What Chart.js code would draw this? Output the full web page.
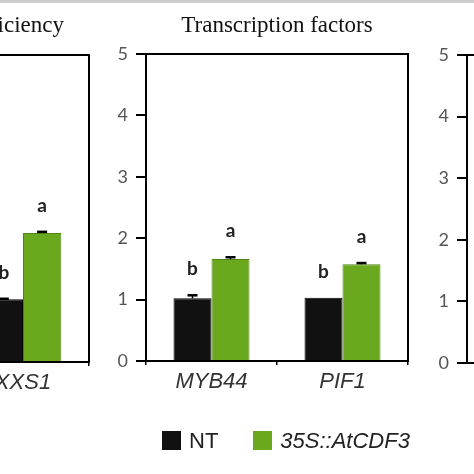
<!DOCTYPE html>
<html><head><meta charset="utf-8">
<script src="https://cdn.jsdelivr.net/npm/chart.js@4.4.1/dist/chart.umd.min.js"></script>
<style>
html,body{margin:0;padding:0;background:#fff;width:474px;height:474px;overflow:hidden;position:relative}
canvas{position:absolute;top:0}
#topbar{position:absolute;left:0;top:0;width:474px;height:3px;background:#cdcdcd}
#legend{position:absolute;left:162px;top:431px;display:flex;align-items:center;font-family:"Liberation Sans",Arial,sans-serif;font-size:22px;color:#222;line-height:19px}
.item{display:flex;align-items:center;margin-right:35px}
.sw{width:19px;height:19px;display:inline-block}
.lt{margin-left:8px}
</style>
</head><body>
<canvas id="cL" width="260" height="474" style="left:-160px"></canvas>
<canvas id="cM" width="474" height="474" style="left:0px"></canvas>
<canvas id="cR" width="200" height="474" style="left:380px"></canvas>
<div id="legend"></div>
<div id="topbar"></div>
<script>
// ---- data ----
const yTicks = [0, 1, 2, 3, 4, 5];
const seriesNames = ['NT', '35S::AtCDF3'];
const seriesColors = ['#111111', '#6aa81e'];
const seriesBorders = ['#000000', '#4e8514'];
const seriesItalic = [false, true];

const leftTitle = 'Nitrogen use efficiency';
const leftCategories = ['XXS1'];
const leftNT = [1.02];
const leftNTErr = [0.01];
const leftCDF3 = [2.10];
const leftCDF3Err = [0.02];
const leftNTLetters = ['b'];
const leftCDF3Letters = ['a'];

const midTitle = 'Transcription factors';
const midCategories = ['MYB44', 'PIF1'];
const midNT = [1.02, 1.03];
const midNTErr = [0.05, 0.0];
const midCDF3 = [1.66, 1.575];
const midCDF3Err = [0.03, 0.02];
const midNTLetters = ['b', 'b'];
const midCDF3Letters = ['a', 'a'];

// ---- plugins ----
const errLetters = {
  id: 'errLetters',
  afterDatasetsDraw(chart) {
    const ctx = chart.ctx, y = chart.scales.y;
    chart.data.datasets.forEach((ds, di) => {
      const meta = chart.getDatasetMeta(di);
      meta.data.forEach((bar, i) => {
        const v = ds.data[i], e = (ds.errors || [])[i] || 0;
        const yTop = y.getPixelForValue(v + e);
        if (e > 0) {
          ctx.save();
          ctx.strokeStyle = '#000'; ctx.lineWidth = 1.5;
          ctx.beginPath(); ctx.moveTo(bar.x, bar.y); ctx.lineTo(bar.x, yTop); ctx.stroke();
          ctx.lineWidth = 2.5;
          ctx.beginPath(); ctx.moveTo(bar.x - 5, yTop); ctx.lineTo(bar.x + 5, yTop); ctx.stroke();
          ctx.restore();
        }
        const L = (ds.letters || [])[i];
        if (L) {
          ctx.save();
          ctx.font = 'bold 19px Lato'; ctx.fillStyle = '#222';
          ctx.textAlign = 'center'; ctx.textBaseline = 'middle';
          ctx.fillText(L, bar.x, yTop - 26);
          ctx.restore();
        }
      });
    });
  }
};
const panelTitle = {
  id: 'panelTitle',
  afterDraw(chart, args, opts) {
    if (!opts || !opts.text) return;
    const ctx = chart.ctx, a = chart.chartArea;
    ctx.save();
    ctx.font = '23px "Liberation Serif"'; ctx.fillStyle = '#111'; ctx.textBaseline = 'alphabetic';
    let x;
    if (opts.align === 'right') { ctx.textAlign = 'right'; x = a.right + (opts.dx || 0); }
    else { ctx.textAlign = 'center'; x = (a.left + a.right) / 2; }
    ctx.fillText(opts.text, x, opts.baseline);
    ctx.restore();
  }
};
Chart.register(errLetters, panelTitle);

function panel(id, o) {
  const series = o.series || [];
  const datasets = series.map((s, k) => ({
    label: seriesNames[k], data: s.data, errors: s.err, letters: s.letters,
    backgroundColor: seriesColors[k], borderColor: seriesBorders[k], borderWidth: 1,
    barPercentage: 1, categoryPercentage: 0.58
  }));
  const hasCat = !!o.labels;
  const scales = {
    x: {
      type: hasCat ? 'category' : 'linear', position: 'bottom',
      min: hasCat ? undefined : 0, max: hasCat ? undefined : 1,
      grid: { display: hasCat, drawOnChartArea: false, drawTicks: true, tickLength: 4, color: '#000', lineWidth: 1.5 },
      border: { display: true, color: '#000', width: 2 },
      ticks: { display: hasCat, padding: 4, color: '#333', maxRotation: 0, autoSkip: false,
        font: { family: '"Liberation Sans", Arial, sans-serif', size: 22, style: 'italic' } },
      afterFit: s => { s.height = o.xH; }
    },
    xTop: {
      type: 'linear', position: 'top', min: 0, max: 1,
      grid: { display: false }, ticks: { display: false },
      border: { display: true, color: '#000', width: 2 },
      afterFit: s => { s.height = o.topH; }
    },
    y: {
      type: 'linear', position: 'left', min: yTicks[0], max: yTicks[yTicks.length - 1],
      ticks: { stepSize: yTicks[1] - yTicks[0], padding: 8, color: '#555', font: { family: 'Lato', size: 18 } },
      grid: { drawOnChartArea: false, drawTicks: true, tickLength: 10, color: '#000', lineWidth: 2 },
      border: { display: true, color: '#000', width: 2 },
      afterFit: s => { s.width = o.yW; }
    }
  };
  if (o.yRW) {
    scales.yR = {
      type: 'linear', position: 'right', min: 0, max: 1,
      grid: { display: false }, ticks: { display: false },
      border: { display: true, color: '#000', width: 2 },
      afterFit: s => { s.width = o.yRW; }
    };
  }
  return new Chart(document.getElementById(id), {
    type: 'bar',
    data: { labels: o.labels || [], datasets },
    options: {
      responsive: false, animation: false, events: [],
      layout: { padding: 0 },
      plugins: { legend: { display: false }, tooltip: { enabled: false }, panelTitle: o.title || {} },
      scales
    }
  });
}

panel('cL', {
  labels: leftCategories,
  series: [
    { data: leftNT, err: leftNTErr, letters: leftNTLetters },
    { data: leftCDF3, err: leftCDF3Err, letters: leftCDF3Letters }
  ],
  yW: 117, yRW: 11, topH: 55, xH: 112,
  title: { text: leftTitle, align: 'right', dx: -25, baseline: 32 }
});
panel('cM', {
  labels: midCategories,
  series: [
    { data: midNT, err: midNTErr, letters: midNTLetters },
    { data: midCDF3, err: midCDF3Err, letters: midCDF3Letters }
  ],
  yW: 146, yRW: 66, topH: 54, xH: 113,
  title: { text: midTitle, align: 'center', baseline: 32 }
});
panel('cR', { yW: 87, topH: 55, xH: 111 });

// legend
const lg = document.getElementById('legend');
seriesNames.forEach((n, k) => {
  const it = document.createElement('span'); it.className = 'item';
  const sw = document.createElement('span'); sw.className = 'sw'; sw.style.background = seriesColors[k];
  const t = document.createElement('span'); t.className = 'lt'; t.textContent = n;
  if (seriesItalic[k]) t.style.fontStyle = 'italic';
  it.appendChild(sw); it.appendChild(t); lg.appendChild(it);
});
</script>
</body></html>
